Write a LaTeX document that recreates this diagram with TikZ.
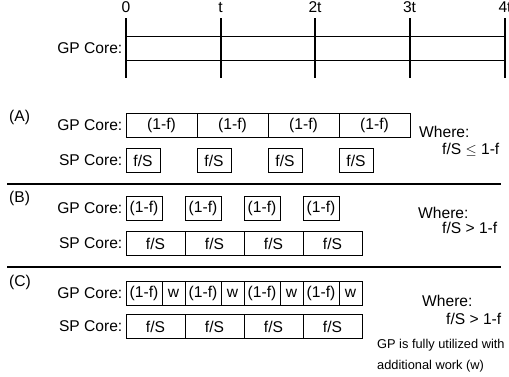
\documentclass[tikz,border=0pt]{standalone}
\usepackage{fontspec}
\setmainfont{Liberation Sans}
\begin{document}
\begin{tikzpicture}[x=1bp,y=-1bp,
  font=\fontsize{15.6bp}{18bp}\selectfont,
  cell/.style={draw, line width=0.8bp, minimum height=24bp, inner sep=0pt, outer sep=0pt},
  tickline/.style={line width=2bp},
  sepline/.style={line width=2bp},
  thinline/.style={line width=0.9bp},
  rowlbl/.style={anchor=east, inner sep=0pt},
  txt/.style={anchor=west, inner sep=0pt},
  smalltxt/.style={anchor=west, inner sep=0pt, font=\fontsize{12.8bp}{15bp}\selectfont}]
\useasboundingbox (0,0) rectangle (509,376);

% timeline
\foreach \x/\n/\l in {126/0/0, 220.5/1/t, 315/2/2t, 409.5/3/3t, 505/4/4t} {
  \coordinate (tt\n) at (\x,18);
  \coordinate (tb\n) at (\x,78);
  \node[inner sep=0pt] (tl\n) at (\x,7.5) {\l};
  \draw[tickline] (tt\n) -- (tb\n);
}
\coordinate (h1a) at (126,36); \coordinate (h1b) at (505,36);
\coordinate (h2a) at (126,60); \coordinate (h2b) at (505,60);
\draw[thinline] (h1a) -- (h1b);
\draw[thinline] (h2a) -- (h2b);
\node[rowlbl] (gp0) at (122.5,48) {GP Core:};

% (A)
\node[txt] (labA) at (9,117) {(A)};
\node[rowlbl] (gpA) at (122.5,125) {GP Core:};
\node[rowlbl] (spA) at (122.5,160.5) {SP Core:};
\foreach \c [count=\i] in {161.5,232.5,303.5,374.5}
  \node[cell, minimum width=71bp] (ag\i) at (\c,125) {(1-f)};
\foreach \c [count=\i] in {143,214,285,356}
  \node[cell, minimum width=34bp] (as\i) at (\c,160.5) {f/S};
\node[txt] (whA) at (419,132) {Where:};
\node[txt] (cdA) at (442,149.5) {f/S $\leq$ 1-f};

\coordinate (s1a) at (7,184); \coordinate (s1b) at (501,184);
\draw[sepline] (s1a) -- (s1b);

% (B)
\node[txt] (labB) at (9,198) {(B)};
\node[rowlbl] (gpB) at (122.5,208.5) {GP Core:};
\node[rowlbl] (spB) at (122.5,243.5) {SP Core:};
\foreach \c [count=\i] in {144,203,262,321}
  \node[cell, minimum width=36bp] (bg\i) at (\c,208.5) {(1-f)};
\foreach \c [count=\i] in {155.5,214.5,273.5,332.5}
  \node[cell, minimum width=59bp] (bs\i) at (\c,243.5) {f/S};
\node[txt] (whB) at (418,213) {Where:};
\node[txt] (cdB) at (442,228) {f/S > 1-f};

\coordinate (s2a) at (7,267); \coordinate (s2b) at (501,267);
\draw[sepline] (s2a) -- (s2b);

% (C)
\node[txt] (labC) at (9,282) {(C)};
\node[rowlbl] (gpC) at (122.5,293) {GP Core:};
\node[rowlbl] (spC) at (122.5,326.5) {SP Core:};
\foreach \c [count=\i] in {144,203,262,321}
  \node[cell, minimum width=36bp] (cg\i) at (\c,293) {(1-f)};
\foreach \c [count=\i] in {173.5,232.5,291.5,350.5}
  \node[cell, minimum width=23bp] (cw\i) at (\c,293) {w};
\foreach \c [count=\i] in {155.5,214.5,273.5,332.5}
  \node[cell, minimum width=59bp] (cs\i) at (\c,326.5) {f/S};
\node[txt] (whC) at (422,301) {Where:};
\node[txt] (cdC) at (446,319) {f/S > 1-f};
\node[smalltxt] (nt1) at (377,345) {GP is fully utilized with};
\node[smalltxt] (nt2) at (377,366) {additional work (w)};
\end{tikzpicture}
\end{document}
